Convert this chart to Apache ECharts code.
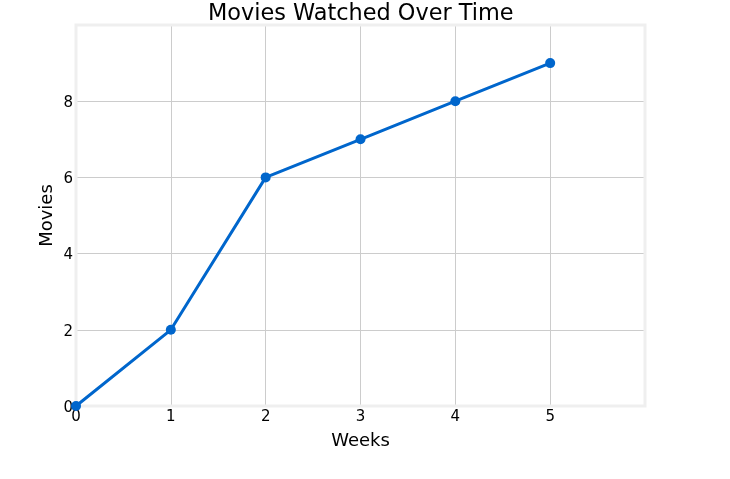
<!DOCTYPE html>
<html><head><meta charset="utf-8">
<script src="https://cdn.jsdelivr.net/npm/echarts@6/dist/echarts.min.js"></script>
<style>html,body{margin:0;padding:0;background:#fff}#c{width:730px;height:479px}</style>
</head><body><div id="c"></div>
<script>
const weeks = [0, 1, 2, 3, 4, 5];
const movies = [0, 2, 6, 7, 8, 9];
const title = 'Movies Watched Over Time';
const xName = 'Weeks';
const yName = 'Movies';
const F = 'DejaVu Sans';
const chart = echarts.init(document.getElementById('c'));
chart.setOption({
  animation: false,
  backgroundColor: '#fff',
  title: { text: title, left: 203, top: -2,
    textStyle: { fontFamily: F, fontSize: 22.4, fontWeight: 'normal', color: '#000' } },
  grid: { left: 76, right: 85, top: 25, bottom: 73, show: true, borderColor: '#efefef', borderWidth: 3, backgroundColor: 'transparent', z: 3 },
  xAxis: { type: 'value', min: 0, max: 6, interval: 1,
    name: xName, nameLocation: 'middle', nameGap: 26, nameMoveOverlap: false,
    nameTextStyle: { fontFamily: F, fontSize: 18, color: '#000' },
    axisLine: { show: false }, axisTick: { show: false },
    axisLabel: { margin: 4, fontFamily: F, fontSize: 15, color: '#000',
      formatter: v => v === 6 ? '' : String(v) },
    splitLine: { showMinLine: false, showMaxLine: false, lineStyle: { color: '#cccccc', width: 1 } } },
  yAxis: { type: 'value', min: 0, max: 10, interval: 2,
    name: yName, nameLocation: 'middle', nameGap: 20, nameMoveOverlap: false,
    nameTextStyle: { fontFamily: F, fontSize: 18, color: '#000' },
    axisLine: { show: false }, axisTick: { show: false },
    axisLabel: { margin: 3, fontFamily: F, fontSize: 15, color: '#000',
      formatter: v => v === 10 ? '' : '{a|' + v + '}',
      rich: { a: { fontFamily: F, fontSize: 15, color: '#000', padding: [4, 0, 0, 0] } } },
    splitLine: { showMinLine: false, showMaxLine: false, lineStyle: { color: '#cccccc', width: 1 } } },
  series: [{ type: 'line', data: weeks.map((w, i) => [w, movies[i]]),
    lineStyle: { color: '#0066cc', width: 3 }, itemStyle: { color: '#0066cc' },
    symbol: 'circle', symbolSize: 10, showSymbol: true, z: 5 }]
});
</script></body></html>
